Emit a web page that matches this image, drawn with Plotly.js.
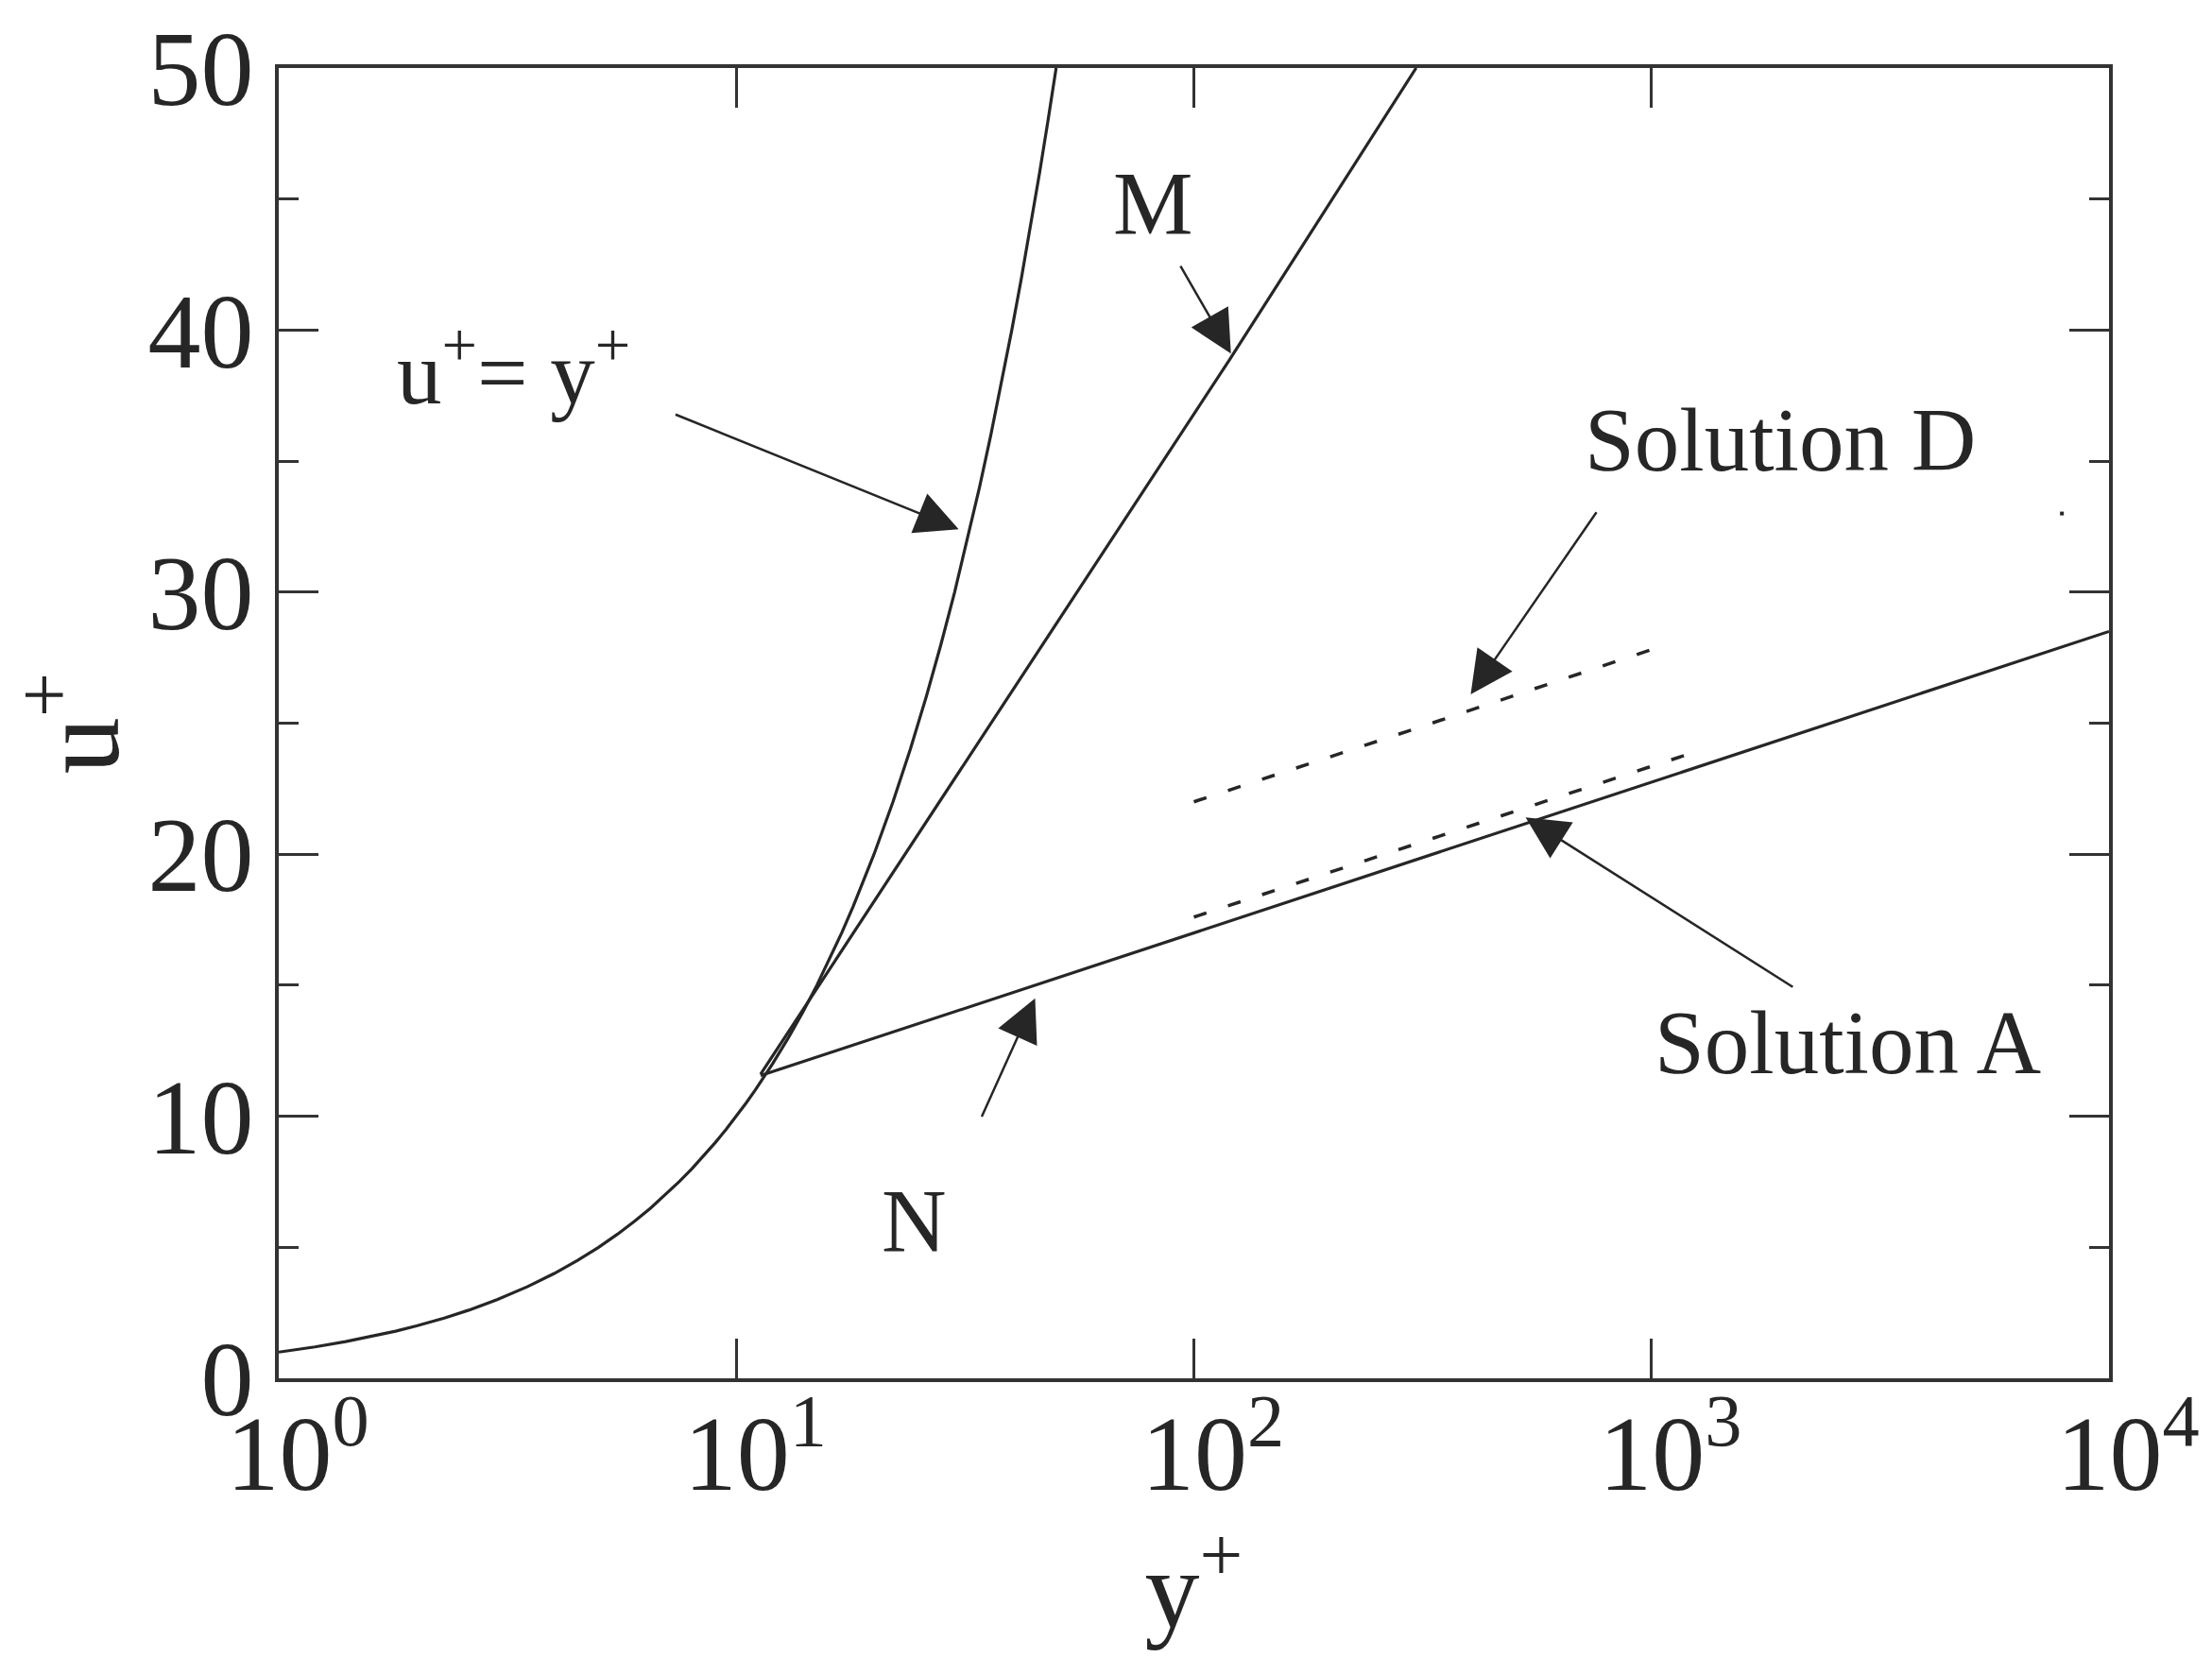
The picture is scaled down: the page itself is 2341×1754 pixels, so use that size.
<!DOCTYPE html>
<html>
<head>
<meta charset="utf-8">
<script src="https://cdn.plot.ly/plotly-3.0.1.min.js"></script>
<style>
  html, body { margin: 0; padding: 0; background: #fff; }
  #chart { width: 2341px; height: 1754px; }
</style>
</head>
<body>
<div id="chart"></div>
<script>
// ---- data ----
// viscous sublayer curve u+ = y+
const viscYplus = [1, 1.2, 1.4, 1.6, 1.8, 2, 2.3, 2.6, 3, 3.5, 4, 4.5, 5, 5.5, 6, 6.5, 7, 7.5, 8, 8.5, 9, 9.5, 10,
                   10.5, 11, 11.5, 12, 13, 14, 15, 16, 17, 18, 19, 20, 22, 24, 26, 28, 30, 32, 34, 36, 38, 40, 42, 44, 46, 48, 50];
const viscUplus = [1, 1.2, 1.4, 1.6, 1.8, 2, 2.3, 2.6, 3, 3.5, 4, 4.5, 5, 5.5, 6, 6.5, 7, 7.5, 8, 8.5, 9, 9.5, 10,
                   10.5, 11, 11.5, 12, 13, 14, 15, 16, 17, 18, 19, 20, 22, 24, 26, 28, 30, 32, 34, 36, 38, 40, 42, 44, 46, 48, 50];
// line M
const mYplus = [11.3, 20, 50, 120, 306];
const mUplus = [11.6, 18.2, 28.8, 38.9, 50];
// line N (log law)
const nYplus = [11.3, 100, 1000, 10000];
const nUplus = [11.55, 17.0, 22.75, 28.5];
// Solution A (dashed)
const aYplus = [100, 1000, 1270];
const aUplus = [17.6, 23.35, 23.95];
// Solution D (dashed)
const dYplus = [100, 300, 1070];
const dUplus = [22.0, 24.75, 27.98];
// stray mark in the original figure
const strayYplus = [7890];
const strayUplus = [33.0];

// tick labels
const xTickVals = [1, 10, 100, 1000, 10000];
const xTickText = ['10<sup>0</sup>', '10<sup>1</sup>', '10<sup>2</sup>', '10<sup>3</sup>', '10<sup>4</sup>'];
const yTickVals = [0, 10, 20, 30, 40, 50];
const yTickText = ['0', '10', '20', '30', '40', '50'];
const yMinorVals = [5, 15, 25, 35, 45];

// ---- styling ----
const INK = '#262626';
const FONT = '"Liberation Serif", "Times New Roman", Times, serif';
const solid = {color: INK, width: 3.2, shape: 'linear'};
const dashed = {color: INK, width: 3.5, dash: '14px,24px'};

const traces = [
  {x: viscYplus, y: viscUplus, mode: 'lines', line: solid, name: 'u+=y+'},
  {x: mYplus, y: mUplus, mode: 'lines', line: solid, name: 'M'},
  {x: nYplus, y: nUplus, mode: 'lines', line: solid, name: 'N'},
  {x: aYplus, y: aUplus, mode: 'lines', line: dashed, name: 'Solution A'},
  {x: dYplus, y: dUplus, mode: 'lines', line: dashed, name: 'Solution D'},
  {x: strayYplus, y: strayUplus, mode: 'markers', marker: {color: INK, size: 4, symbol: 'square'}, name: 'mark'}
];

// label positions (x in log10 units)
const labelDefs = [
  {text: 'u<sup>+</sup>= y<sup>+</sup>', x: 0.514, y: 38.6},
  {text: 'M', x: 1.911, y: 44.8},
  {text: 'Solution D', x: 3.281, y: 35.8},
  {text: 'Solution A', x: 3.428, y: 12.8},
  {text: 'N', x: 1.388, y: 6.0}
];
// arrows: tip (x,y), tail (ax,ay), log10 units for x
const arrowDefs = [
  {x: 1.486, y: 32.4, ax: 0.864, ay: 36.8},
  {x: 2.081, y: 39.1, ax: 1.969, ay: 42.5},
  {x: 2.605, y: 26.1, ax: 2.882, ay: 33.1},
  {x: 2.725, y: 21.4, ax: 3.312, ay: 14.9},
  {x: 1.653, y: 14.5, ax: 1.535, ay: 9.93}
];

const annotations = [];
labelDefs.forEach(l => annotations.push({
  xref: 'x', yref: 'y', x: l.x, y: l.y, text: l.text, showarrow: false,
  font: {family: FONT, size: 95, color: INK}
}));
arrowDefs.forEach(a => annotations.push({
  xref: 'x', yref: 'y', axref: 'x', ayref: 'y',
  x: a.x, y: a.y, ax: a.ax, ay: a.ay, text: '',
  showarrow: true, arrowhead: 2, arrowsize: 3.6, arrowwidth: 2.5,
  arrowcolor: INK, standoff: 0, startstandoff: 0
}));

const axisCommon = {
  showline: true, linewidth: 4, linecolor: '#333', mirror: 'ticks',
  ticks: 'inside', tickwidth: 3, tickcolor: '#333',
  showgrid: false, zeroline: false, automargin: false,
  tickfont: {family: FONT, size: 112, color: INK}
};

const layout = {
  width: 2341, height: 1754,
  margin: {l: 295, r: 109, t: 72, b: 295, pad: 0},
  paper_bgcolor: '#fff', plot_bgcolor: '#fff',
  showlegend: false,
  font: {family: FONT, color: INK},
  xaxis: Object.assign({}, axisCommon, {
    type: 'log', range: [0, 4], automargin: true,
    tickmode: 'array', tickvals: xTickVals, ticktext: xTickText,
    ticklen: 42, ticklabelstandoff: -20, ticklabelshift: 20,
    title: {text: 'y<sup>+</sup>', font: {family: FONT, size: 116, color: INK}, standoff: 5}
  }),
  yaxis: Object.assign({}, axisCommon, {
    range: [0, 50],
    tickmode: 'array', tickvals: yTickVals, ticktext: yTickText,
    ticklen: 42,
    minor: {tickmode: 'array', tickvals: yMinorVals, ticks: 'inside', ticklen: 21, tickwidth: 3, tickcolor: '#333'},
    title: {text: 'u<sup>+</sup>', font: {family: FONT, size: 120, color: INK}, standoff: 30}
  }),
  annotations: annotations
};

Plotly.newPlot('chart', traces, layout, {staticPlot: true, displayModeBar: false});
</script>
</body>
</html>
